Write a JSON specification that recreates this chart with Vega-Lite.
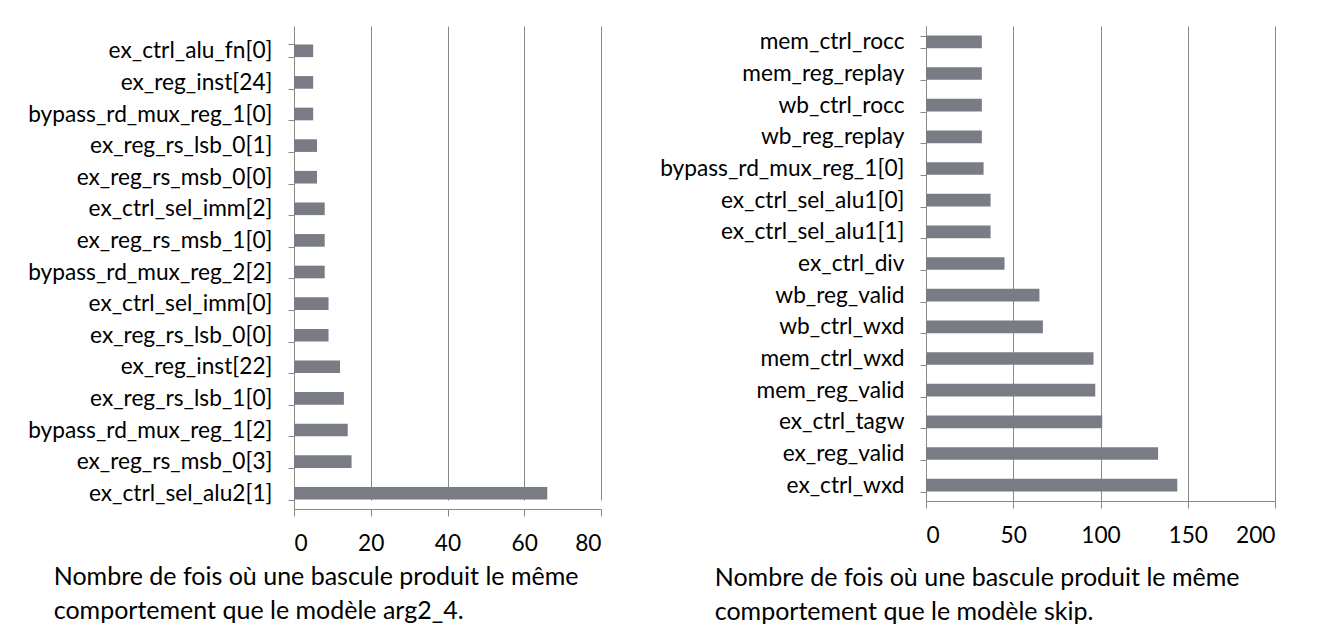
{
  "$schema": "https://vega.github.io/schema/vega-lite/v6.json",
  "background": "white",
  "padding": {"left": 27, "top": 15, "right": 5, "bottom": 5},
  "spacing": 57,
  "config": {
    "view": {"stroke": null},
    "font": "Lato",
    "axis": {
      "domainColor": "#888888",
      "tickColor": "#888888",
      "gridColor": "#888888",
      "labelColor": "#000000",
      "labelFont": "Lato",
      "labelFontSize": 22.7,
      "title": null
    },
    "title": {"font": "Lato", "fontSize": 25, "fontWeight": "normal", "color": "#000000", "lineHeight": 34}
  },
  "hconcat": [
    {
      "width": 307,
      "height": 483,
      "title": {"text": ["Nombre de fois où une bascule produit le même", "comportement que le modèle arg2_4."], "orient": "bottom", "anchor": "start", "frame": "bounds", "dx": 26, "offset": 10},
      "data": {"values": [
        {"name": "ex_ctrl_alu_fn[0]", "count": 5},
        {"name": "ex_reg_inst[24]", "count": 5},
        {"name": "bypass_rd_mux_reg_1[0]", "count": 5},
        {"name": "ex_reg_rs_lsb_0[1]", "count": 6},
        {"name": "ex_reg_rs_msb_0[0]", "count": 6},
        {"name": "ex_ctrl_sel_imm[2]", "count": 8},
        {"name": "ex_reg_rs_msb_1[0]", "count": 8},
        {"name": "bypass_rd_mux_reg_2[2]", "count": 8},
        {"name": "ex_ctrl_sel_imm[0]", "count": 9},
        {"name": "ex_reg_rs_lsb_0[0]", "count": 9},
        {"name": "ex_reg_inst[22]", "count": 12},
        {"name": "ex_reg_rs_lsb_1[0]", "count": 13},
        {"name": "bypass_rd_mux_reg_1[2]", "count": 14},
        {"name": "ex_reg_rs_msb_0[3]", "count": 15},
        {"name": "ex_ctrl_sel_alu2[1]", "count": 66}
      ]},
      "mark": {"type": "bar", "color": "#797c85"},
      "encoding": {
        "y": {"field": "name", "type": "nominal", "sort": null,
          "scale": {"paddingInner": 0.6, "paddingOuter": 0.3, "range": [9, 483]},
          "axis": {"tickBand": "extent", "tickSize": 6, "labelPadding": 16, "labelLimit": 0, "grid": false}},
        "x": {"field": "count", "type": "quantitative",
          "scale": {"domain": [0, 80], "nice": false},
          "axis": {"values": [0, 20, 40, 60, 80], "grid": true, "tickSize": 7, "labelPadding": 16}}
      }
    },
    {
      "width": 349,
      "height": 475,
      "title": {"text": ["Nombre de fois où une bascule produit le même", "comportement que le modèle skip."], "orient": "bottom", "anchor": "start", "frame": "bounds", "dx": 55, "offset": 19},
      "data": {"values": [
        {"name": "mem_ctrl_rocc", "count": 32},
        {"name": "mem_reg_replay", "count": 32},
        {"name": "wb_ctrl_rocc", "count": 32},
        {"name": "wb_reg_replay", "count": 32},
        {"name": "bypass_rd_mux_reg_1[0]", "count": 33},
        {"name": "ex_ctrl_sel_alu1[0]", "count": 37},
        {"name": "ex_ctrl_sel_alu1[1]", "count": 37},
        {"name": "ex_ctrl_div", "count": 45},
        {"name": "wb_reg_valid", "count": 65},
        {"name": "wb_ctrl_wxd", "count": 67},
        {"name": "mem_ctrl_wxd", "count": 96},
        {"name": "mem_reg_valid", "count": 97},
        {"name": "ex_ctrl_tagw", "count": 101},
        {"name": "ex_reg_valid", "count": 133},
        {"name": "ex_ctrl_wxd", "count": 144}
      ]},
      "mark": {"type": "bar", "color": "#797c85"},
      "encoding": {
        "y": {"field": "name", "type": "nominal", "sort": null,
          "scale": {"paddingInner": 0.6, "paddingOuter": 0.3},
          "axis": {"tickBand": "extent", "tickSize": 6, "labelPadding": 16, "labelLimit": 0, "grid": false}},
        "x": {"field": "count", "type": "quantitative",
          "scale": {"domain": [0, 200], "nice": false},
          "axis": {"values": [0, 50, 100, 150, 200], "grid": true, "tickSize": 7, "labelPadding": 16}}
      }
    }
  ]
}
